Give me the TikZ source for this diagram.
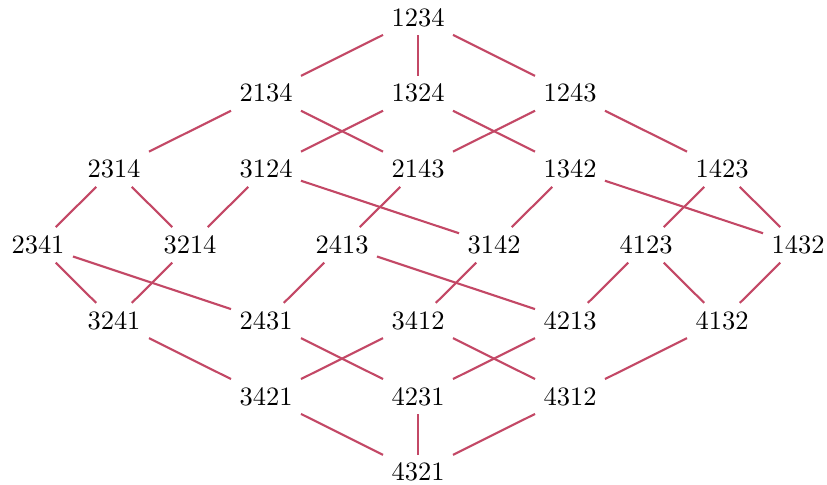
\documentclass[tikz,border=0pt]{standalone}
\begin{document}
\begin{tikzpicture}[x=0.3774pt,y=-0.3774pt,
  perm/.style={inner sep=3pt},
  edge/.style={draw=edgecol,line width=0.8pt}]
\definecolor{edgecol}{RGB}{195,72,102}
\useasboundingbox (0,0) rectangle (827,485);
\def\U{76}\def\V{75.8}
\newcommand{\pnode}[3]{\node[perm] (p#1) at ({418+#2*\U},{17.5+#3*\V}) {#1};}
\pnode{1234}{0}{0}
\pnode{2134}{-2}{1}\pnode{1324}{0}{1}\pnode{1243}{2}{1}
\pnode{2314}{-4}{2}\pnode{3124}{-2}{2}\pnode{2143}{0}{2}\pnode{1342}{2}{2}\pnode{1423}{4}{2}
\pnode{2341}{-5}{3}\pnode{3214}{-3}{3}\pnode{2413}{-1}{3}\pnode{3142}{1}{3}\pnode{4123}{3}{3}\pnode{1432}{5}{3}
\pnode{3241}{-4}{4}\pnode{2431}{-2}{4}\pnode{3412}{0}{4}\pnode{4213}{2}{4}\pnode{4132}{4}{4}
\pnode{3421}{-2}{5}\pnode{4231}{0}{5}\pnode{4312}{2}{5}
\pnode{4321}{0}{6}
\foreach \a/\b in {1234/2134,1234/1324,1234/1243,
  2134/2314,2134/2143,1324/3124,1324/1342,1243/2143,1243/1423,
  2314/2341,2314/3214,3124/3214,3124/3142,2143/2413,1342/3142,1342/1432,1423/4123,1423/1432,
  2341/3241,2341/2431,3214/3241,2413/2431,2413/4213,3142/3412,4123/4213,4123/4132,1432/4132,
  3241/3421,2431/4231,3412/3421,3412/4312,4213/4231,4132/4312,
  3421/4321,4231/4321,4312/4321}
  \draw[edge] (p\a) -- (p\b);
\end{tikzpicture}
\end{document}
